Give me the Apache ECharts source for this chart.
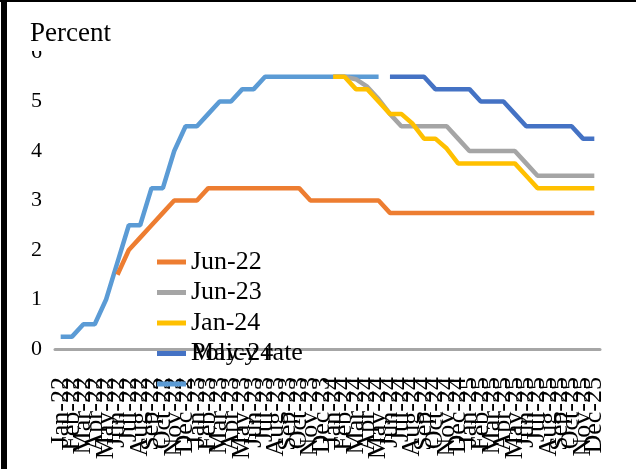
<!DOCTYPE html>
<html>
<head>
<meta charset="utf-8">
<script src="https://cdn.jsdelivr.net/npm/echarts@6/dist/echarts.min.js"></script>
<style>
  html, body { margin: 0; padding: 0; background: #fff; }
  #chart { width: 636px; height: 469px; }
</style>
</head>
<body>
<div id="chart"></div>
<script>
// Monthly categories, Jan-22 through Dec-25
const months = [
  'Jan-22','Feb-22','Mar-22','Apr-22','May-22','Jun-22','Jul-22','Aug-22','Sep-22','Oct-22','Nov-22','Dec-22',
  'Jan-23','Feb-23','Mar-23','Apr-23','May-23','Jun-23','Jul-23','Aug-23','Sep-23','Oct-23','Nov-23','Dec-23',
  'Jan-24','Feb-24','Mar-24','Apr-24','May-24','Jun-24','Jul-24','Aug-24','Sep-24','Oct-24','Nov-24','Dec-24',
  'Jan-25','Feb-25','Mar-25','Apr-25','May-25','Jun-25','Jul-25','Aug-25','Sep-25','Oct-25','Nov-25','Dec-25'
];

const yTicks = [0, 1, 2, 3, 4, 5, 6];

// Policy rate (target range upper bound), percent
const policyRate = [
  0.25, 0.25, 0.5, 0.5, 1.0, 1.75, 2.5, 2.5, 3.25, 3.25, 4.0, 4.5,
  4.5, 4.75, 5.0, 5.0, 5.25, 5.25, 5.5, 5.5, 5.5, 5.5, 5.5, 5.5,
  5.5, 5.5, 5.5, 5.5, 5.5, null, null, null, null, null, null, null,
  null, null, null, null, null, null, null, null, null, null, null, null
];

// Expected paths as of each date, percent
const jun22 = [
  null, null, null, null, null, 1.5, 2.0, 2.25, 2.5, 2.75, 3.0, 3.0,
  3.0, 3.25, 3.25, 3.25, 3.25, 3.25, 3.25, 3.25, 3.25, 3.25, 3.0, 3.0,
  3.0, 3.0, 3.0, 3.0, 3.0, 2.75, 2.75, 2.75, 2.75, 2.75, 2.75, 2.75,
  2.75, 2.75, 2.75, 2.75, 2.75, 2.75, 2.75, 2.75, 2.75, 2.75, 2.75, 2.75
];

const jun23 = [
  null, null, null, null, null, null, null, null, null, null, null, null,
  null, null, null, null, null, null, null, null, null, null, null, null,
  5.5, 5.5, 5.45, 5.3, 5.05, 4.75, 4.5, 4.5, 4.5, 4.5, 4.5, 4.25,
  4.0, 4.0, 4.0, 4.0, 4.0, 3.75, 3.5, 3.5, 3.5, 3.5, 3.5, 3.5
];

const jan24 = [
  null, null, null, null, null, null, null, null, null, null, null, null,
  null, null, null, null, null, null, null, null, null, null, null, null,
  5.5, 5.5, 5.25, 5.25, 5.0, 4.75, 4.75, 4.55, 4.25, 4.25, 4.05, 3.75,
  3.75, 3.75, 3.75, 3.75, 3.75, 3.5, 3.25, 3.25, 3.25, 3.25, 3.25, 3.25
];

const may24 = [
  null, null, null, null, null, null, null, null, null, null, null, null,
  null, null, null, null, null, null, null, null, null, null, null, null,
  null, null, null, null, null, 5.5, 5.5, 5.5, 5.5, 5.25, 5.25, 5.25,
  5.25, 5.0, 5.0, 5.0, 4.75, 4.5, 4.5, 4.5, 4.5, 4.5, 4.25, 4.25
];

const legendNames = ['Jun-22', 'Jun-23', 'Jan-24', 'May-24', 'Policy rate'];

const serif = '"Liberation Serif", "Times New Roman", serif';

function lineSeries(name, data, color) {
  return {
    name: name,
    type: 'line',
    data: data,
    symbol: 'none',
    connectNulls: false,
    lineStyle: { color: color, width: 4.5 },
    itemStyle: { color: color },
    emphasis: { disabled: true }
  };
}

const chart = echarts.init(document.getElementById('chart'), null, { renderer: 'canvas' });

chart.setOption({
  animation: false,
  backgroundColor: '#ffffff',
  grid: { left: 55, right: 36, top: 52, bottom: 120, containLabel: false },
  xAxis: {
    type: 'category',
    data: months,
    boundaryGap: true,
    axisLine: { lineStyle: { color: '#a6a6a6', width: 3 } },
    axisTick: { show: false },
    axisLabel: {
      rotate: 90,
      interval: 0,
      margin: 28,
      fontFamily: serif,
      fontSize: 26,
      color: '#000'
    }
  },
  yAxis: {
    type: 'value',
    min: yTicks[0],
    max: yTicks[yTicks.length - 1],
    interval: 1,
    axisLine: { show: false },
    axisTick: { show: false },
    splitLine: { show: false },
    axisLabel: { fontFamily: serif, fontSize: 22, color: '#000', margin: 13, padding: [4, 0, 0, 0] }
  },
  legend: {
    data: legendNames,
    orient: 'vertical',
    left: 157,
    top: 249,
    padding: 0,
    icon: 'rect',
    itemWidth: 29,
    itemHeight: 5,
    itemGap: 4.5,
    selectedMode: false,
    formatter: function (n) { return n === 'Policy rate' ? ' ' : n; },
    textStyle: { fontFamily: serif, fontSize: 26, lineHeight: 26, color: '#000' }
  },
  series: [
    lineSeries('Policy rate', policyRate, '#5b9bd5'),
    lineSeries('Jun-22', jun22, '#ed7d31'),
    lineSeries('Jun-23', jun23, '#a5a5a5'),
    lineSeries('Jan-24', jan24, '#ffc000'),
    lineSeries('May-24', may24, '#4472c4')
  ],
  graphic: [
    // frame
    { type: 'rect', shape: { x: 1, y: 0, width: 6, height: 469 }, style: { fill: '#000' }, z: 200 },
    { type: 'rect', shape: { x: 0, y: 0, width: 636, height: 2 }, style: { fill: '#000' }, z: 200 },
    // top of the "6" tick label sits under the title band
    { type: 'rect', shape: { x: 20, y: 43, width: 32, height: 8 }, style: { fill: '#fff' }, z: 150 },
    {
      type: 'text', x: 30, y: 20, z: 160,
      style: { text: 'Percent', font: '27px ' + serif, fill: '#000' }
    },
    {
      type: 'text', x: 191, y: 353.5, z: 160,
      style: { text: 'Policy rate', font: '26px ' + serif, fill: '#000', verticalAlign: 'middle' }
    }
  ]
});
</script>
</body>
</html>
